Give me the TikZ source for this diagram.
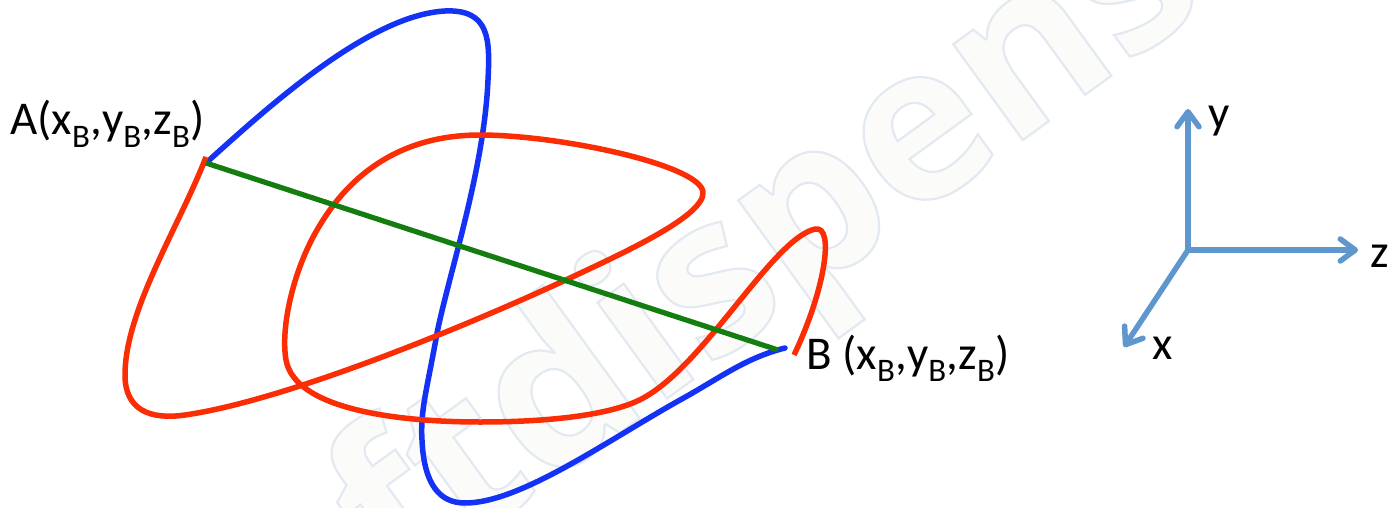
\documentclass[tikz,border=0pt]{standalone}
\usepackage{fontspec}
\setmainfont{Carlito}
\newfontfamily\wmfont{Open Sans}
\usetikzlibrary{arrows.meta}
\definecolor{curveblue}{RGB}{20,50,245}
\definecolor{curvered}{RGB}{250,45,5}
\definecolor{chordgreen}{RGB}{20,125,15}
\definecolor{axisblue}{RGB}{95,150,205}
\definecolor{wmfill}{RGB}{251,251,249}
\tikzset{
 px/.style={x=1pt,y=-1pt},
 bluecurve/.style={draw=curveblue,line width=5.5pt,line join=round,line cap=round},
 redcurve/.style={draw=curvered,line width=5.5pt,line join=round},
 chord/.style={draw=chordgreen,line width=5.2pt},
 axisline/.style={draw=axisblue,line width=5.5pt,line cap=round,-{Straight Barb[length=15pt,width=22pt,line cap=round,line join=round]}},
 lab/.style={font=\fontsize{47}{50}\selectfont,inner sep=0pt,anchor=base west,text=black},
 wmtext/.style={font=\wmfont\bfseries\fontsize{217}{217}\selectfont,inner sep=0pt,anchor=base west,rotate=36,text=wmfill},
}
\begin{document}
\begin{tikzpicture}[px]
\useasboundingbox (0,0) rectangle (1392,508);
\fill[white] (0,0) rectangle (1392,508);
% watermark
\begin{scope}
\clip (0,0) rectangle (1392,508);
\node[wmtext] (wm) at (398,594) {\special{pdf:code 2 Tr 2.2 w 0.89 0.915 0.945 RG}ftdispens\special{pdf:code 0 Tr}};
\end{scope}
% endpoints
\coordinate (A) at (206,163);
\coordinate (Ar) at (206,157);
\coordinate (B) at (785,348);
\coordinate (Bc) at (778,350);
\coordinate (Br) at (794,355);
\coordinate (O) at (1188,250);
\coordinate (Y) at (1188,109);
\coordinate (Z) at (1358,250);
\coordinate (X) at (1124,347);
% blue curve
\draw[bluecurve] (A) .. controls (270,105) and (370,15) .. (445,11)
 .. controls (490,9) and (490,40) .. (488,80)
 .. controls (484,170) and (450,270) .. (437,333)
 .. controls (428,385) and (420,410) .. (422,440)
 .. controls (424,485) and (440,503) .. (465,503)
 .. controls (520,503) and (605,442) .. (680,400)
 .. controls (720,378) and (745,358) .. (B);
% red curve
\draw[redcurve] (Ar) .. controls (180,225) and (125,310) .. (125,375)
 .. controls (125,410) and (150,420) .. (185,415)
 .. controls (290,400) and (480,320) .. (570,278)
 .. controls (630,250) and (705,215) .. (703,192)
 .. controls (700,165) and (560,135) .. (480,135)
 .. controls (400,135) and (350,175) .. (320,225)
 .. controls (295,265) and (280,325) .. (286,360)
 .. controls (295,410) and (400,422) .. (480,422)
 .. controls (550,422) and (605,415) .. (635,402)
 .. controls (700,375) and (770,240) .. (815,229)
 .. controls (835,225) and (825,290) .. (Br);
% chord
\draw[chord] (A) -- (Bc);
% axes
\draw[axisline] (O) -- (Y);
\draw[axisline] (O) -- (Z);
\draw[axisline] (O) -- (X);
% labels
\node[lab] (la) at (10,135) {A(x\textsubscript{B},y\textsubscript{B},z\textsubscript{B})};
\node[lab] (lb) at (806,369) {B (x\textsubscript{B},y\textsubscript{B},z\textsubscript{B})};
\node[lab] (ly) at (1208,129) {y};
\node[lab] (lz) at (1370,267) {z};
\node[lab] (lx) at (1152,359) {x};
\end{tikzpicture}
\end{document}
